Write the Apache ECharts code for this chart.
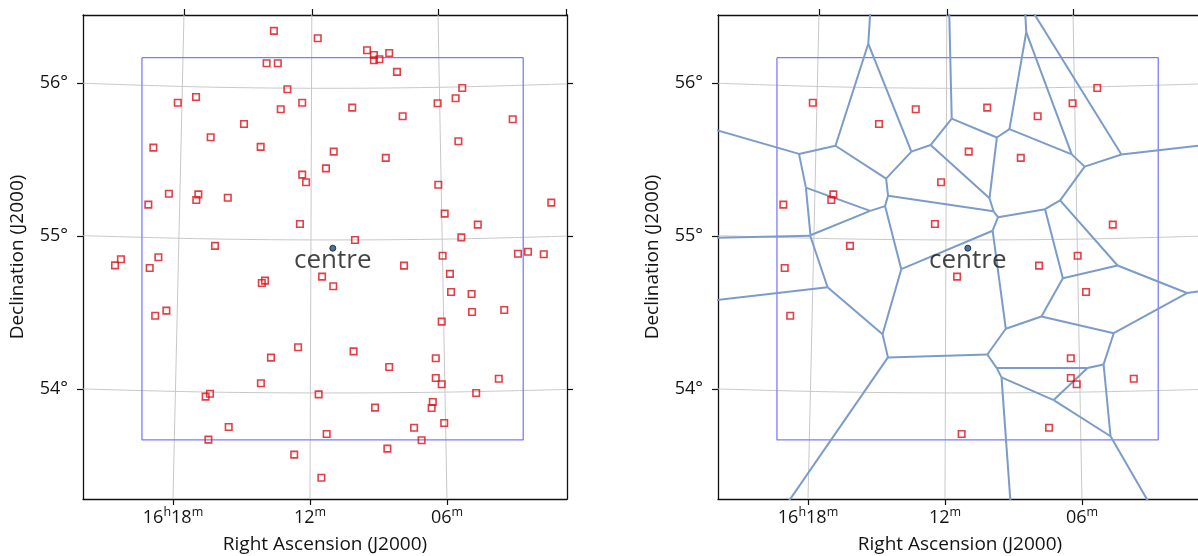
<!DOCTYPE html>
<html>
<head>
<meta charset="utf-8">
<script src="https://cdn.jsdelivr.net/npm/echarts@6/dist/echarts.min.js"></script>
<style>
  html, body { margin: 0; padding: 0; background: #ffffff; }
  #chart { width: 1198px; height: 556px; }
</style>
</head>
<body>
<div id="chart"></div>
<script>
// ---- axes: right ascension in minutes past 16h (bottom-edge scale), declination in degrees
const raRange = [0.742, 21.942];
const decRange = [53.283, 56.446];
const raTicks = [18, 12, 6];
const raTickLabels = ['16h18m', '12m', '06m'];
const raTopTicks = [17.52, 11.92, 6.39, 0.79];
const decTicks = [56, 55, 54];
const decTickLabels = ['56°', '55°', '54°'];

// ---- catalogue sources (RA minutes past 16h, Dec degrees); 1 = used for the cell map
const starRA = [
  13.58, 13.90, 13.41, 12.99, 13.28, 12.34, 17.79, 16.99, 14.89, 16.35,
  14.16, 18.86, 12.34, 12.17, 18.18, 16.89, 16.98, 15.60, 19.08, 12.44,
  16.16, 20.28, 20.54, 18.64, 19.02, 11.66, 9.50, 9.20, 9.20, 8.96,
  8.53, 8.19, 5.33, 5.62, 6.41, 10.15, 7.94, 3.12, 5.50, 10.96,
  8.68, 11.30, 6.38, 6.10, 4.65, 1.43, 5.37, 10.03, 2.89, 2.45,
  1.76, 6.19, 7.88, 11.47, 5.87, 13.97, 14.11, 18.78, 18.29, 12.52,
  13.71, 14.15, 16.57, 16.38, 15.56, 16.45, 12.69, 10.98, 5.82, 4.92,
  4.90, 3.49, 6.23, 10.09, 6.49, 8.53, 6.49, 6.23, 3.73, 4.72,
  11.62, 9.15, 6.62, 6.67, 6.12, 7.44, 11.27, 7.11, 8.61, 11.50
];
const starDec = [
  56.342, 56.131, 56.131, 55.961, 55.830, 55.873, 55.873, 55.910, 55.734, 55.647,
  55.584, 55.579, 55.403, 55.353, 55.278, 55.274, 55.237, 55.252, 55.207, 55.080,
  54.937, 54.850, 54.810, 54.863, 54.793, 56.294, 56.216, 56.185, 56.150, 56.157,
  56.198, 56.074, 55.969, 55.902, 55.869, 55.841, 55.784, 55.765, 55.621, 55.553,
  55.512, 55.444, 55.337, 55.148, 55.076, 55.220, 54.993, 54.976, 54.886, 54.899,
  54.882, 54.873, 54.808, 54.736, 54.754, 54.710, 54.695, 54.481, 54.514, 54.275,
  54.207, 54.039, 53.952, 53.971, 53.754, 53.671, 53.573, 54.673, 54.636, 54.623,
  54.505, 54.518, 54.442, 54.248, 54.203, 54.146, 54.074, 54.033, 54.069, 53.976,
  53.967, 53.880, 53.917, 53.878, 53.780, 53.749, 53.708, 53.667, 53.612, 53.422
];
const starInCells = [
  0, 0, 0, 0, 1, 0, 1, 0, 1, 0,
  0, 0, 0, 1, 0, 1, 1, 0, 1, 1,
  1, 0, 0, 0, 1, 0, 0, 0, 0, 0,
  0, 0, 1, 0, 1, 1, 1, 0, 0, 1,
  1, 0, 0, 0, 1, 0, 0, 0, 0, 0,
  0, 1, 1, 1, 0, 0, 0, 1, 0, 0,
  0, 0, 0, 0, 0, 0, 0, 0, 1, 0,
  0, 0, 0, 0, 1, 0, 1, 1, 1, 0,
  0, 0, 0, 0, 0, 1, 1, 0, 0, 0
];

// ---- pointing centre and field footprint
const centreRA = 11.0;
const centreDec = 54.922;
const centreLabel = 'centre';
const fieldRA = [19.36, 2.66];
const fieldDec = [53.669, 56.167];

// ---- coordinate grid (graticule) samples
const meridianTopRA = [17.52, 11.92, 6.39];
const meridianBottomRA = [18.0, 12.0, 6.0];
const parallelRA = [21.94, 16.47, 11.0, 5.85, 0.74];
const parallel56 = [56.000, 55.975, 55.967, 55.975, 55.996];
const parallel55 = [55.004, 54.983, 54.976, 54.982, 55.001];
const parallel54 = [54.002, 53.982, 53.976, 53.982, 53.999];

const FONT = '"Open Sans", "Noto Sans", sans-serif';
const INK = '#141414';

function raLabel(v) {
  const i = raTicks.findIndex(t => Math.abs(t - v) < 1e-6);
  if (i < 0) return '';
  return raTickLabels[i].replace(/(\d+)([hm])/g, '{n|$1}{s|$2}');
}
function decLabel(v) {
  const i = decTicks.findIndex(t => Math.abs(t - v) < 1e-6);
  return i < 0 ? '' : decTickLabels[i];
}

const frameLine = { show: true, onZero: false, lineStyle: { color: '#111', width: 1.3 } };
const tickStyle = { color: '#111', width: 1.2 };

function axesFor(g) {
  const x = [
    {
      type: 'value', gridIndex: g, position: 'bottom', inverse: true,
      min: raRange[0], max: raRange[1],
      axisLine: frameLine,
      axisTick: { show: true, customValues: raTicks, length: 6, lineStyle: tickStyle },
      axisLabel: {
        show: true, customValues: raTicks, formatter: raLabel, margin: 7,
        fontFamily: FONT, fontSize: 18, color: INK,
        rich: {
          n: { fontFamily: FONT, fontSize: 18, color: INK, lineHeight: 24 },
          s: { fontFamily: FONT, fontSize: 12.5, color: INK, lineHeight: 13, verticalAlign: 'top' }
        }
      },
      splitLine: { show: false },
      name: 'Right Ascension (J2000)', nameLocation: 'middle', nameGap: 36,
      nameTextStyle: { fontFamily: FONT, fontSize: 19, color: INK }
    },
    {
      type: 'value', gridIndex: g, position: 'top', inverse: true,
      min: raRange[0], max: raRange[1],
      axisLine: frameLine,
      axisTick: { show: true, customValues: raTopTicks, length: 6, lineStyle: tickStyle },
      axisLabel: { show: false },
      splitLine: { show: false }
    }
  ];
  const y = [
    {
      type: 'value', gridIndex: g, position: 'left',
      min: decRange[0], max: decRange[1],
      axisLine: frameLine,
      axisTick: { show: true, customValues: decTicks, length: 6, lineStyle: tickStyle },
      axisLabel: {
        show: true, customValues: decTicks, formatter: decLabel, margin: 15,
        fontFamily: FONT, fontSize: 18, color: INK
      },
      splitLine: { show: false },
      name: 'Declination (J2000)', nameLocation: 'middle', nameGap: 56, nameRotate: 90,
      nameTextStyle: { fontFamily: FONT, fontSize: 19, color: INK }
    },
    {
      type: 'value', gridIndex: g, position: 'right',
      min: decRange[0], max: decRange[1],
      axisLine: frameLine,
      axisTick: { show: true, customValues: decTicks, length: 6, lineStyle: tickStyle },
      axisLabel: { show: false },
      splitLine: { show: false }
    }
  ];
  return { x, y };
}

function seriesFor(g, showAll) {
  const xi = 2 * g, yi = 2 * g;
  const out = [];
  const gridLine = { color: '#c8c8c8', width: 1 };
  meridianTopRA.forEach((top, k) => {
    out.push({
      type: 'line', xAxisIndex: xi, yAxisIndex: yi, silent: true, symbol: 'none', z: 1,
      lineStyle: gridLine,
      data: [[top, decRange[1]], [meridianBottomRA[k], decRange[0]]]
    });
  });
  [parallel56, parallel55, parallel54].forEach(decs => {
    out.push({
      type: 'line', xAxisIndex: xi, yAxisIndex: yi, silent: true, symbol: 'none', z: 1,
      smooth: 0.35, lineStyle: gridLine,
      data: parallelRA.map((ra, k) => [ra, decs[k]])
    });
  });
  out.push({
    type: 'line', xAxisIndex: xi, yAxisIndex: yi, silent: true, symbol: 'none', z: 2,
    lineStyle: { color: '#7b7bff', width: 1.3 },
    data: [
      [fieldRA[0], fieldDec[1]], [fieldRA[1], fieldDec[1]],
      [fieldRA[1], fieldDec[0]], [fieldRA[0], fieldDec[0]],
      [fieldRA[0], fieldDec[1]]
    ]
  });
  if (!showAll) {
    out.push({
      id: 'cells', type: 'lines', coordinateSystem: 'cartesian2d',
      xAxisIndex: xi, yAxisIndex: yi, polyline: false, clip: true, silent: true, z: 3,
      lineStyle: { color: '#7b9cc8', width: 2, opacity: 1 },
      data: []
    });
  }
  const pts = [];
  starRA.forEach((ra, i) => {
    if (showAll || starInCells[i]) pts.push([ra, starDec[i]]);
  });
  out.push({
    type: 'scatter', xAxisIndex: xi, yAxisIndex: yi, silent: true, z: 4,
    symbol: 'rect', symbolSize: 6.5,
    itemStyle: { color: 'rgba(0,0,0,0)', borderColor: '#dc0f18', borderWidth: 1.6 },
    data: pts
  });
  out.push({
    type: 'scatter', xAxisIndex: xi, yAxisIndex: yi, silent: true, z: 5,
    symbol: 'circle', symbolSize: 6,
    itemStyle: { color: '#24507f', borderColor: '#0d1c30', borderWidth: 1 },
    label: {
      show: true, formatter: centreLabel, position: 'inside', offset: [0, 12],
      fontFamily: FONT, fontSize: 26, color: INK
    },
    data: [[centreRA, centreDec]]
  });
  return out;
}

// Voronoi edges of a point set: each bisector clipped by every other site's half-plane
function voronoiEdges(pts, span) {
  const segs = [];
  const n = pts.length;
  for (let i = 0; i < n; i++) {
    for (let j = i + 1; j < n; j++) {
      const a = pts[i], b = pts[j];
      const mx = (a[0] + b[0]) / 2, my = (a[1] + b[1]) / 2;
      let ux = -(b[1] - a[1]), uy = b[0] - a[0];
      const len = Math.hypot(ux, uy);
      ux /= len; uy /= len;
      let t0 = -span, t1 = span;
      const aa = a[0] * a[0] + a[1] * a[1];
      for (let k = 0; k < n && t0 < t1; k++) {
        if (k === i || k === j) continue;
        const c = pts[k];
        const nx = c[0] - a[0], ny = c[1] - a[1];
        const rhs = c[0] * c[0] + c[1] * c[1] - aa;
        const base = 2 * (mx * nx + my * ny);
        const slope = 2 * (ux * nx + uy * ny);
        if (Math.abs(slope) < 1e-12) {
          if (base > rhs) t1 = t0 - 1;
        } else if (slope > 0) {
          t1 = Math.min(t1, (rhs - base) / slope);
        } else {
          t0 = Math.max(t0, (rhs - base) / slope);
        }
      }
      if (t1 - t0 > 1e-6) {
        segs.push([[mx + ux * t0, my + uy * t0], [mx + ux * t1, my + uy * t1]]);
      }
    }
  }
  return segs;
}

const chart = echarts.init(document.getElementById('chart'), null, { renderer: 'canvas' });
const a0 = axesFor(0), a1 = axesFor(1);
chart.setOption({
  backgroundColor: '#ffffff',
  animation: false,
  grid: [
    { left: 83, top: 15, width: 484, height: 484, outerBoundsMode: 'none' },
    { left: 718, top: 15, width: 484, height: 484, outerBoundsMode: 'none' }
  ],
  xAxis: [...a0.x, ...a1.x],
  yAxis: [...a0.y, ...a1.y],
  series: [...seriesFor(0, true), ...seriesFor(1, false)]
});

// cell map of the selected sources, built in screen space of the right panel
const finder = { xAxisIndex: 2, yAxisIndex: 2 };
const sitesPx = [];
starRA.forEach((ra, i) => {
  if (starInCells[i]) sitesPx.push(chart.convertToPixel(finder, [ra, starDec[i]]));
});
const cellEdges = voronoiEdges(sitesPx, 3000).map(s => ({
  coords: s.map(p => chart.convertFromPixel(finder, p))
}));
chart.setOption({ series: [{ id: 'cells', data: cellEdges }] });
</script>
</body>
</html>
